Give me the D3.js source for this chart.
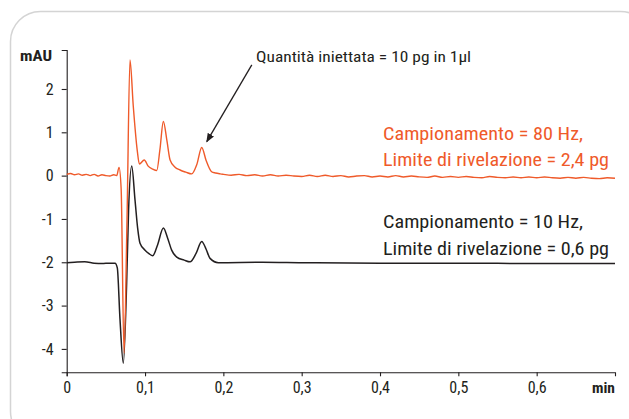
<!DOCTYPE html>
<html><head><meta charset="utf-8">
<script src="https://cdn.jsdelivr.net/npm/d3@7"></script>
<style>
html,body{margin:0;padding:0;background:#fff;}
svg{display:block;}
text{font-family:Roboto,"Liberation Sans",sans-serif;font-stretch:condensed;}
</style></head>
<body>
<svg id="c" width="629" height="419"></svg>
<script>
// ---- data ----
const xTicks = [0, 0.1, 0.2, 0.3, 0.4, 0.5, 0.6];
const xTickLabels = ["0", "0,1", "0,2", "0,3", "0,4", "0,5", "0,6"];
const yTicks = [-4, -3, -2, -1, 0, 1, 2];
const yTickLabels = ["-4", "-3", "-2", "-1", "0", "1", "2"];

// 80 Hz trace (orange)
const orangeT = [0,0.005,0.01,0.015,0.02,0.025,0.03,0.035,0.04,0.045,0.05,0.055,0.06,
  0.0638,0.0668,0.0695,0.0732,0.077,0.0808,0.085,0.09,0.0928,0.099,0.104,0.11,0.115,0.119,0.1234,0.128,0.132,0.138,0.1447,0.152,0.1596,0.166,0.1724,0.178,0.185,0.19,0.196,
  0.2,0.21,0.22,0.23,0.24,0.25,0.26,0.27,0.28,0.29,0.3,0.31,0.32,0.33,0.34,0.35,0.36,0.37,0.38,0.39,0.4,0.41,0.42,0.43,0.44,0.45,0.46,0.47,0.48,0.49,0.5,0.51,0.52,0.53,0.54,0.55,0.56,0.57,0.58,0.59,0.6,0.61,0.62,0.63,0.64,0.65,0.66,0.67,0.68,0.69,0.7];
const orangeV = [0.03,0.05,0.02,0.04,0.01,0.03,0.0,0.03,-0.01,0.02,0.0,-0.01,0.02,
  0.0,0.19,-0.3,-4.1,-1.0,2.67,1.6,0.59,0.27,0.36,0.22,0.15,0.12,0.6,1.25,0.8,0.36,0.2,0.13,0.08,0.04,0.25,0.65,0.35,0.09,0.06,0.04,
  0.03,0.01,0.03,0.0,0.02,-0.01,0.02,-0.01,0.01,-0.01,-0.02,0.01,-0.02,0.01,-0.02,0.0,-0.03,-0.01,0.0,-0.03,-0.01,-0.03,0.0,-0.03,-0.01,-0.03,-0.04,-0.01,-0.04,-0.02,-0.04,-0.02,-0.04,-0.05,-0.02,-0.04,-0.05,-0.03,-0.05,-0.03,-0.05,-0.03,-0.05,-0.06,-0.04,-0.06,-0.04,-0.06,-0.07,-0.05,-0.06];

// 10 Hz trace (black)
const blackT = [0,0.01,0.023,0.035,0.045,0.055,0.0617,0.0646,0.068,0.0723,0.0765,0.079,0.083,0.0872,0.0905,0.0936,0.1,0.105,0.1098,0.116,0.1234,0.129,0.134,0.1405,0.15,0.1575,0.165,0.1724,0.178,0.183,0.1936,0.25,0.3,0.4,0.5,0.6,0.7];
const blackV = [-2.01,-2.0,-1.99,-2.02,-2.03,-2.02,-2.02,-2.13,-3.3,-4.33,-2.5,-0.8,0.22,-0.56,-1.2,-1.56,-1.72,-1.8,-1.85,-1.6,-1.21,-1.45,-1.72,-1.88,-1.95,-1.99,-1.8,-1.52,-1.7,-1.91,-2.01,-2.0,-2.01,-2.02,-2.02,-2.03,-2.03];

const annotation = "Quantità iniettata = 10 pg in 1µl";
const orangeLabel = ["Campionamento = 80 Hz,", "Limite di rivelazione = 2,4 pg"];
const blackLabel = ["Campionamento = 10 Hz,", "Limite di rivelazione = 0,6 pg"];

// ---- drawing ----
const svg = d3.select("#c");
const ORANGE = "#ef5a2a", BLACK = "#231f20";

svg.append("rect").attr("x",10.5).attr("y",11.5).attr("width",640).attr("height",430)
  .attr("rx",30).attr("fill","none").attr("stroke","#d4d4d4").attr("stroke-width",1.5);

const x = d3.scaleLinear().domain([0,0.7]).range([66.7,615]);
const y = d3.scaleLinear().domain([-4.54,2.9]).range([372.3,50]);

const gx = svg.append("g").attr("transform",`translate(0,${y(-4.54)})`)
  .call(d3.axisBottom(x).tickValues(xTicks).tickFormat((d,i)=>xTickLabels[i]).tickSizeOuter(0).tickSize(4).tickPadding(5));
const gy = svg.append("g").attr("transform",`translate(${x(0)},0)`)
  .call(d3.axisLeft(y).tickValues(yTicks).tickFormat((d,i)=>yTickLabels[i]).tickSizeOuter(0).tickSize(5).tickPadding(8));
[gx,gy].forEach(g=>{
  g.attr("font-family",null).attr("font-size",null);
  g.selectAll("path,line").attr("stroke",BLACK).attr("stroke-width",1.1);
  g.selectAll("text").attr("fill",BLACK)
   .style("font-family","Roboto, sans-serif").style("font-stretch","condensed").style("font-size","16px");
});

svg.append("text").attr("x",20).attr("y",61).attr("font-size",15).attr("font-weight","bold").attr("fill",BLACK)
  .attr("textLength",32).attr("lengthAdjust","spacingAndGlyphs").text("mAU");
svg.append("text").attr("x",592).attr("y",393).attr("font-size",15).attr("font-weight","bold").attr("fill",BLACK)
  .attr("textLength",23).attr("lengthAdjust","spacingAndGlyphs").text("min");

const line = d3.line().curve(d3.curveMonotoneX).x(d=>x(d[0])).y(d=>y(d[1]));
svg.append("path").datum(d3.zip(blackT,blackV)).attr("d",line).attr("fill","none").attr("stroke",BLACK).attr("stroke-width",1.5);
svg.append("path").datum(d3.zip(orangeT,orangeV)).attr("d",line).attr("fill","none").attr("stroke",ORANGE).attr("stroke-width",1.4);

// annotation arrow
svg.append("defs").append("marker").attr("id","ah").attr("viewBox","0 0 10 10").attr("refX",9).attr("refY",5)
  .attr("markerWidth",9).attr("markerHeight",9).attr("markerUnits","userSpaceOnUse").attr("orient","auto")
  .append("path").attr("d","M0,1 L10,5 L0,9 Z").attr("fill",BLACK);
svg.append("line").attr("x1",x(0.2363)).attr("y1",y(2.557)).attr("x2",x(0.1788)).attr("y2",y(0.785))
  .attr("stroke",BLACK).attr("stroke-width",1.3).attr("marker-end","url(#ah)");
svg.append("text").attr("x",x(0.2418)).attr("y",62).attr("font-size",15).attr("fill",BLACK)
  .attr("textLength",215).attr("lengthAdjust","spacingAndGlyphs").text(annotation);

orangeLabel.forEach((t,i)=>svg.append("text").attr("x",383).attr("y",140+i*25.7).attr("font-size",17.5).attr("fill",ORANGE)
  .attr("textLength",i?226:200).attr("lengthAdjust","spacingAndGlyphs").text(t));
blackLabel.forEach((t,i)=>svg.append("text").attr("x",383).attr("y",228+i*27).attr("font-size",17.5).attr("fill",BLACK)
  .attr("textLength",i?226:200).attr("lengthAdjust","spacingAndGlyphs").text(t));
</script>
</body></html>
